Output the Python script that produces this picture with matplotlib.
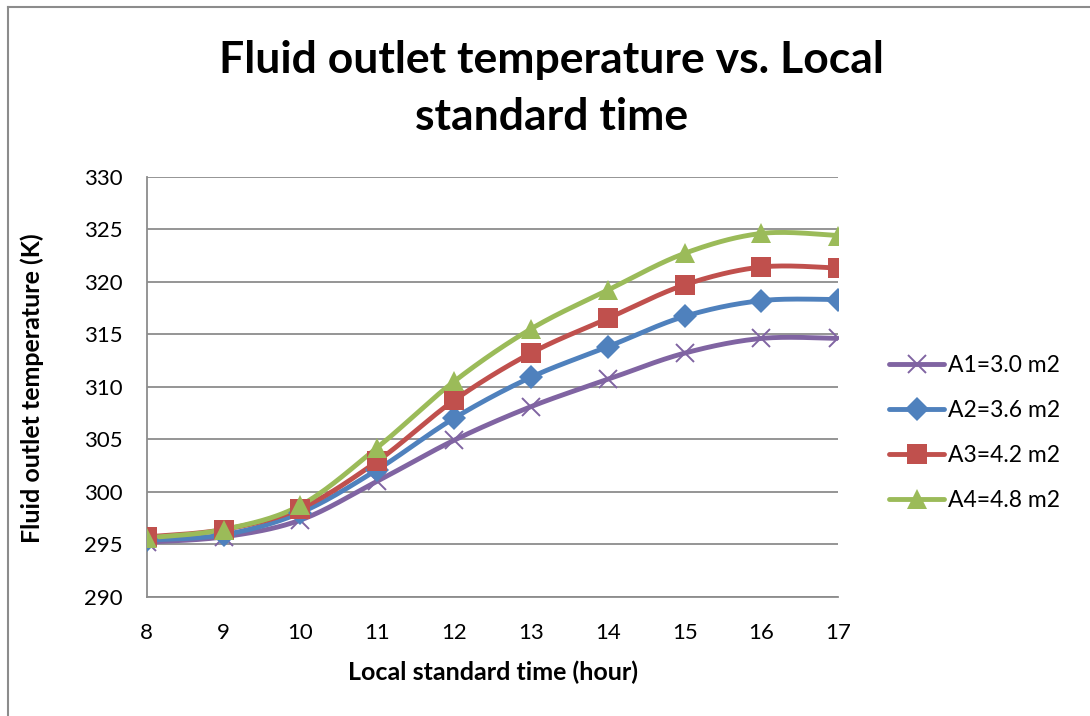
import numpy as np
import matplotlib
matplotlib.use("Agg")
import matplotlib.pyplot as plt
from matplotlib.lines import Line2D

plt.rcParams['font.family'] = ['Lato', 'DejaVu Sans']

hours = [8, 9, 10, 11, 12, 13, 14, 15, 16, 17]
a1_temp = [295.2, 295.7, 297.3, 301.0, 304.9, 308.1, 310.7, 313.2, 314.6, 314.6]
a2_temp = [295.4, 295.9, 298.0, 302.1, 307.0, 310.9, 313.8, 316.7, 318.2, 318.3]
a3_temp = [295.7, 296.4, 298.4, 302.9, 308.7, 313.2, 316.5, 319.7, 321.4, 321.3]
a4_temp = [295.6, 296.4, 298.7, 304.2, 310.5, 315.5, 319.2, 322.7, 324.6, 324.4]
series_labels = ["A1=3.0 m2", "A2=3.6 m2", "A3=4.2 m2", "A4=4.8 m2"]
y_ticks = [290, 295, 300, 305, 310, 315, 320, 325, 330]


def smooth_curve(x, y, steps=30):
    """Cubic Bezier smoothing through every point (Catmull-Rom tangents)."""
    x = np.asarray(x, float)
    y = np.asarray(y, float)
    n = len(x)
    xs, ys = [], []
    for i in range(n - 1):
        p0 = np.array([x[max(i - 1, 0)], y[max(i - 1, 0)]])
        p1 = np.array([x[i], y[i]])
        p2 = np.array([x[i + 1], y[i + 1]])
        p3 = np.array([x[min(i + 2, n - 1)], y[min(i + 2, n - 1)]])
        c1 = p1 + (p2 - p0) / 6.0
        c2 = p2 - (p3 - p1) / 6.0
        t = np.linspace(0, 1, steps, endpoint=(i == n - 2))[:, None]
        pts = ((1 - t) ** 3) * p1 + 3 * ((1 - t) ** 2) * t * c1 \
            + 3 * (1 - t) * t ** 2 * c2 + t ** 3 * p2
        xs.append(pts[:, 0])
        ys.append(pts[:, 1])
    return np.concatenate(xs), np.concatenate(ys)


fig = plt.figure(figsize=(10.9, 7.16), dpi=100)
ax = fig.add_axes([0.1346, 0.1666, 0.6345, 0.5866])

styles = [
    dict(color="#8064A2", marker="x", ms=13, mew=1.4),
    dict(color="#4F81BD", marker="D", ms=12.5, mew=0),
    dict(color="#C0504D", marker="s", ms=14, mew=0),
    dict(color="#9BBB59", marker="^", ms=15, mew=0),
]
all_series = [a1_temp, a2_temp, a3_temp, a4_temp]

handles = []
for vals, st, lab in zip(all_series, styles, series_labels):
    sx, sy = smooth_curve(hours, vals)
    ax.plot(sx, sy, color=st["color"], lw=3.5, solid_capstyle="round", zorder=3)
    ax.plot(hours, vals, ls="none", marker=st["marker"], ms=st["ms"],
            mec=st["color"], mfc=st["color"], mew=st["mew"], zorder=4)
    handles.append(Line2D([0], [0], color=st["color"], lw=3.5,
                          solid_capstyle="round", marker=st["marker"],
                          ms=st["ms"], mec=st["color"], mfc=st["color"],
                          mew=st["mew"]))

ax.set_xlim(8, 17)
ax.set_ylim(290, 330)
ax.set_xticks(hours)
ax.set_yticks(y_ticks)
ax.tick_params(length=0, labelsize=16, colors="black")
ax.tick_params(axis="x", pad=19)
ax.tick_params(axis="y", pad=17)
ax.grid(axis="y", color="#8C8C8C", lw=1.3)
ax.set_axisbelow(True)
for side in ("top", "right"):
    ax.spines[side].set_visible(False)
for side in ("left", "bottom"):
    ax.spines[side].set_color("#8C8C8C")
    ax.spines[side].set_linewidth(1.3)
ax.spines["left"].set_zorder(2)

ax.set_xlabel("Local standard time (hour)", fontsize=18, fontweight="bold")
ax.set_ylabel("Fluid outlet temperature (K)", fontsize=18, fontweight="bold")
ax.xaxis.set_label_coords(0.5, -0.153)
ax.yaxis.set_label_coords(-0.149, 0.497)

fig.text(0.506, 0.876, "Fluid outlet temperature vs. Local\nstandard time",
         ha="center", va="center", fontsize=32, fontweight="bold",
         linespacing=1.52)

leg = fig.legend(handles, series_labels, loc="center left",
                 bbox_to_anchor=(0.816, 0.395), frameon=False, fontsize=16.5,
                 handlelength=2.4, handletextpad=0.15, labelspacing=1.05,
                 borderaxespad=0, borderpad=0)

# outer chart frame (left and top edges)
fig.add_artist(Line2D([8 / 1090, 8 / 1090], [0, 1 - 6.5 / 716],
                      transform=fig.transFigure, color="#8C8C8C", lw=1.5))
fig.add_artist(Line2D([8 / 1090, 1], [1 - 6.5 / 716, 1 - 6.5 / 716],
                      transform=fig.transFigure, color="#8C8C8C", lw=1.5))

fig.savefig("out.png", dpi=100)
